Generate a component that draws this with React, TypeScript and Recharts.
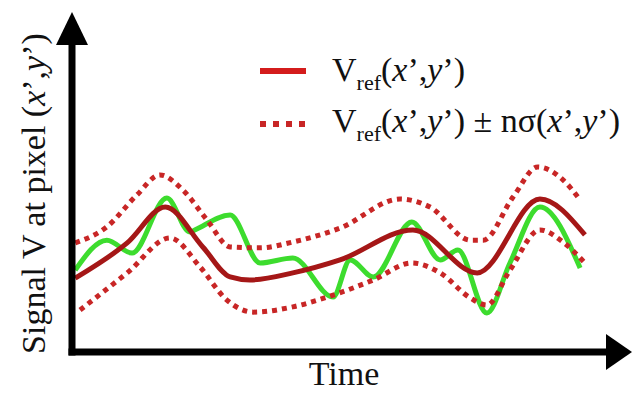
import React from 'react';
import { LineChart, Line, XAxis, YAxis, Legend, ReferenceDot, Label } from 'recharts';

// time axis runs 0..100, signal axis 0..100 (arbitrary units, schematic)
const signalT = [0.6, 6.5, 11.2, 17.7, 22.0, 22.9, 29.5, 35.1, 41.2, 48.7, 51.9, 56.2, 63.4, 68.7, 72.0, 77.4, 81.7, 87.3, 94.8];
const signalV = [26.5, 36.2, 32.0, 49.8, 38.8, 39.5, 44.3, 28.8, 30.4, 17.8, 29.8, 24.3, 42.1, 29.8, 33.0, 12.6, 28.8, 46.9, 27.2];

const refT = [0.6, 10.3, 17.4, 24.4, 29.5, 33.2, 41.2, 50.0, 63.6, 75.6, 87.3, 95.7];
const refV = [23.9, 35.3, 46.9, 34.0, 24.3, 23.3, 25.6, 29.8, 39.5, 25.6, 49.5, 37.9];

const upperT = [0.6, 6.5, 12.1, 16.4, 20.7, 25.2, 29.5, 35.1, 41.2, 50.0, 61.2, 66.8, 74.3, 76.7, 82.3, 86.9, 91.6, 94.8];
const upperV = [35.3, 40.5, 50.8, 57.3, 52.4, 42.7, 34.0, 33.7, 35.6, 40.1, 49.5, 46.9, 36.2, 36.2, 50.2, 59.9, 55.7, 49.2];

const lowerT = [1.5, 10.3, 18.3, 23.9, 28.9, 33.8, 41.2, 48.7, 56.2, 63.4, 68.7, 74.3, 77.4, 81.7, 87.3, 91.6, 95.7];
const lowerV = [13.6, 25.6, 36.9, 27.5, 16.8, 12.9, 14.6, 18.4, 23.3, 28.8, 25.6, 17.5, 15.2, 26.5, 39.5, 35.6, 28.8];

const AXIS_MAX = 100;

const toPoints = (t: number[], v: number[]) => t.map((x, i) => ({ t: x, v: v[i] }));

const signal = toPoints(signalT, signalV);
const vref = toPoints(refT, refV);
const upper = toPoints(upperT, upperV);
const lower = toPoints(lowerT, lowerV);

const SERIF = '"Liberation Serif", "Times New Roman", serif';
const GREEN = '#3ddc2e';
const DARK_RED = '#a51717';
const DOT_RED = '#c82626';

const XY = () => (
  <>
    (<tspan fontStyle="italic">x</tspan>’,<tspan fontStyle="italic">y</tspan>’)
  </>
);

const XYHtml = () => (
  <>
    (<i>x</i>’,<i>y</i>’)
  </>
);

const Vref = () => (
  <>
    V<span style={{ fontSize: 22, position: 'relative', top: 9 }}>ref</span>
    <XYHtml />
  </>
);

const legendRows = [
  { key: 'ref', color: '#d41c1c', dash: undefined as string | undefined },
  { key: 'band', color: DOT_RED, dash: '6 7' },
];

const LegendContent = () => (
  <div style={{ position: 'relative', width: 0, height: 0 }}>
    {legendRows.map((row, i) => (
      <div
        key={row.key}
        style={{
          position: 'absolute',
          left: 260,
          top: 50 + i * 51,
          height: 40,
          lineHeight: '40px',
          whiteSpace: 'nowrap',
          fontFamily: SERIF,
          fontSize: 34,
          color: '#111',
        }}
      >
        <svg width={46} height={8} style={{ position: 'absolute', left: 0, top: 17 + i * 2 }}>
          <line x1={0} y1={4} x2={46} y2={4} stroke={row.color} strokeWidth={6} strokeDasharray={row.dash} />
        </svg>
        <span style={{ position: 'absolute', left: 72, top: 0 }}>
          {i === 0 ? (
            <Vref />
          ) : (
            <>
              <Vref /> ± nσ<XYHtml />
            </>
          )}
        </span>
      </div>
    ))}
  </div>
);

const ArrowRight = (props: any) => {
  const { cx, cy } = props;
  return <polygon points={`${cx - 2},${cy - 18} ${cx + 24},${cy} ${cx - 2},${cy + 18}`} fill="#000" />;
};

const ArrowUp = (props: any) => {
  const { cx, cy } = props;
  return <polygon points={`${cx - 16},${cy + 2} ${cx},${cy - 31} ${cx + 16},${cy + 2}`} fill="#000" />;
};

export default function App() {
  return (
    <div style={{ width: 632, height: 396, background: '#fff' }}>
      <style>{'body{margin:0}'}</style>
      <LineChart width={632} height={396} margin={{ top: 43, right: 24, bottom: 0, left: 0 }}>
        <XAxis
          type="number"
          dataKey="t"
          domain={[0, AXIS_MAX]}
          allowDataOverflow
          tick={false}
          tickLine={false}
          height={44}
          axisLine={{ stroke: '#000', strokeWidth: 7, strokeLinecap: 'square' }}
        >
          <Label
            content={(p: any) => {
              const vb = p.viewBox || {};
              return (
                <text
                  x={vb.x + vb.width / 2 + 4}
                  y={vb.y + 33}
                  textAnchor="middle"
                  fontFamily={SERIF}
                  fontSize={34}
                  fill="#111"
                >
                  Time
                </text>
              );
            }}
          />
        </XAxis>
        <YAxis
          type="number"
          domain={[0, AXIS_MAX]}
          allowDataOverflow
          tick={false}
          tickLine={false}
          width={72}
          axisLine={{ stroke: '#000', strokeWidth: 7, strokeLinecap: 'square' }}
        >
          <Label
            content={(p: any) => {
              const vb = p.viewBox || {};
              const x = vb.x + 45;
              const y = vb.y + vb.height / 2 - 4;
              return (
                <text
                  x={x}
                  y={y}
                  transform={`rotate(-90, ${x}, ${y})`}
                  textAnchor="middle"
                  fontFamily={SERIF}
                  fontSize={34}
                  fill="#111"
                >
                  Signal V at pixel <XY />
                </text>
              );
            }}
          />
        </YAxis>
        <Legend
          content={<LegendContent />}
          wrapperStyle={{ left: 0, top: 0, width: 0, height: 0 }}
        />
        <Line
          data={signal}
          dataKey="v"
          name="signal"
          type="monotone"
          stroke={GREEN}
          strokeWidth={5}
          dot={false}
          activeDot={false}
          legendType="none"
          isAnimationActive={false}
        />
        <Line
          data={upper}
          dataKey="v"
          name="upper"
          type="monotone"
          stroke={DOT_RED}
          strokeWidth={5}
          strokeDasharray="5 5"
          dot={false}
          activeDot={false}
          isAnimationActive={false}
        />
        <Line
          data={lower}
          dataKey="v"
          name="lower"
          type="monotone"
          stroke={DOT_RED}
          strokeWidth={5}
          strokeDasharray="5 5"
          dot={false}
          activeDot={false}
          isAnimationActive={false}
        />
        <Line
          data={vref}
          dataKey="v"
          name="vref"
          type="monotone"
          stroke={DARK_RED}
          strokeWidth={5}
          dot={false}
          activeDot={false}
          isAnimationActive={false}
        />
        <ReferenceDot x={AXIS_MAX} y={0} r={1} ifOverflow="visible" shape={ArrowRight} />
        <ReferenceDot x={0} y={AXIS_MAX} r={1} ifOverflow="visible" shape={ArrowUp} />
      </LineChart>
    </div>
  );
}
